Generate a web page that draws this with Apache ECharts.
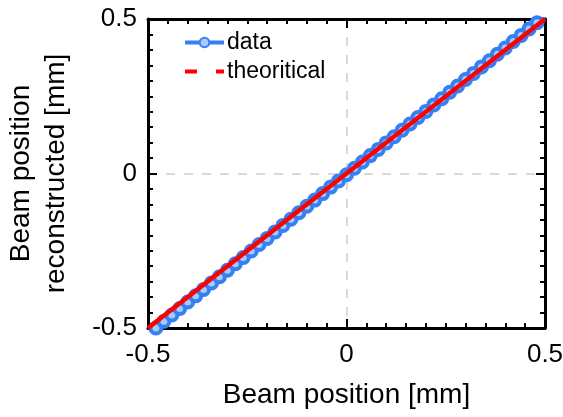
<!DOCTYPE html>
<html><head><meta charset="utf-8">
<script src="https://cdn.jsdelivr.net/npm/echarts@6/dist/echarts.min.js"></script>
<style>html,body{margin:0;padding:0;background:#fff}#c{width:563px;height:417px}</style>
</head><body><div id="c"></div>
<script>
var beamX = [-0.50,-0.48,-0.46,-0.44,-0.42,-0.40,-0.38,-0.36,-0.34,-0.32,-0.30,-0.28,-0.26,-0.24,-0.22,-0.20,-0.18,-0.16,-0.14,-0.12,-0.10,-0.08,-0.06,-0.04,-0.02,0.00,0.02,0.04,0.06,0.08,0.10,0.12,0.14,0.16,0.18,0.20,0.22,0.24,0.26,0.28,0.30,0.32,0.34,0.36,0.38,0.40,0.42,0.44,0.46,0.48,0.50];
var beamReco = [-0.520,-0.500,-0.478,-0.458,-0.437,-0.416,-0.396,-0.375,-0.354,-0.334,-0.313,-0.292,-0.272,-0.251,-0.230,-0.210,-0.189,-0.168,-0.148,-0.127,-0.106,-0.086,-0.065,-0.044,-0.024,-0.004,0.017,0.037,0.058,0.078,0.099,0.119,0.140,0.160,0.181,0.201,0.222,0.242,0.263,0.283,0.304,0.324,0.345,0.365,0.386,0.406,0.427,0.447,0.468,0.488,0.509];
var theoX = [-0.5, 0.5];
var theoY = [-0.5, 0.5];
var tickLabels = ['-0.5','0','0.5'];

var dataPairs = beamX.map(function(x,i){return [x, beamReco[i]];});
var theoPairs = theoX.map(function(x,i){return [x, theoY[i]];});
var FONT = 'Liberation Sans, Arial, sans-serif';
var blue = '#3580f4', red = '#ff0000';

function axisCommon(show){
  return {
    type:'value', min:-0.5, max:0.5, interval:0.5,
    axisLine:{show:true, onZero:false, lineStyle:{color:'#000', width:3}},
    axisTick:{show:true, inside:true, length:9, lineStyle:{color:'#000', width:2}},
    minorTick:{show:true, splitNumber:10, length:5, lineStyle:{color:'#000', width:2}},
    axisLabel:{show:show, color:'#000', fontFamily:FONT, fontSize:26,
      formatter:function(v){var k=Math.round(v*2)+1; return tickLabels[k];}},
    splitLine:{show:false}
  };
}
var xb = axisCommon(true);
xb.position='bottom'; xb.axisLabel.margin=14;
xb.name='Beam position [mm]'; xb.nameLocation='middle'; xb.nameGap=53;
xb.nameTextStyle={color:'#000', fontFamily:FONT, fontSize:28};
xb.splitLine={show:true, lineStyle:{color:'#d9d9d9', width:2, type:[9,9]}};
var xt = axisCommon(false); xt.position='top';
var yl = axisCommon(true);
yl.position='left'; yl.axisLabel.margin=11;
yl.name='Beam position\nreconstructed [mm]'; yl.nameLocation='middle'; yl.nameGap=74;
yl.nameTextStyle={color:'#000', fontFamily:FONT, fontSize:28, lineHeight:35};
yl.splitLine={show:true, lineStyle:{color:'#d9d9d9', width:2, type:[9,9]}};
var yr = axisCommon(false); yr.position='right';

var chart = echarts.init(document.getElementById('c'), null, {renderer:'canvas'});
chart.setOption({
  animation:false,
  backgroundColor:'#fff',
  grid:{left:148, right:18, top:19, bottom:89, containLabel:false, outerBoundsMode:'none'},
  xAxis:[xb, xt],
  yAxis:[yl, yr],
  legend:{
    orient:'vertical', left:183, top:31, padding:0, itemWidth:39, itemHeight:12, itemGap:6,
    textStyle:{color:'#000', fontFamily:FONT, fontSize:23, padding:[0,0,0,-2]},
    data:[
      {name:'data', lineStyle:{width:4, color:blue}},
      {name:'theoritical', itemStyle:{opacity:0}, lineStyle:{type:[12,19], width:4, color:red, opacity:1}}
    ]
  },
  series:[
    {name:'data', type:'line', xAxisIndex:0, yAxisIndex:0, data:dataPairs,
     symbol:'circle', symbolSize:11, showAllSymbol:true, clip:true,
     lineStyle:{color:blue, width:4}, itemStyle:{color:'#a9c9fb', borderColor:blue, borderWidth:4}, z:2},
    {name:'theoritical', type:'line', xAxisIndex:0, yAxisIndex:0, data:theoPairs,
     symbol:'none', lineStyle:{color:red, width:4.5}, itemStyle:{color:red}, z:3}
  ]
});
</script></body></html>
